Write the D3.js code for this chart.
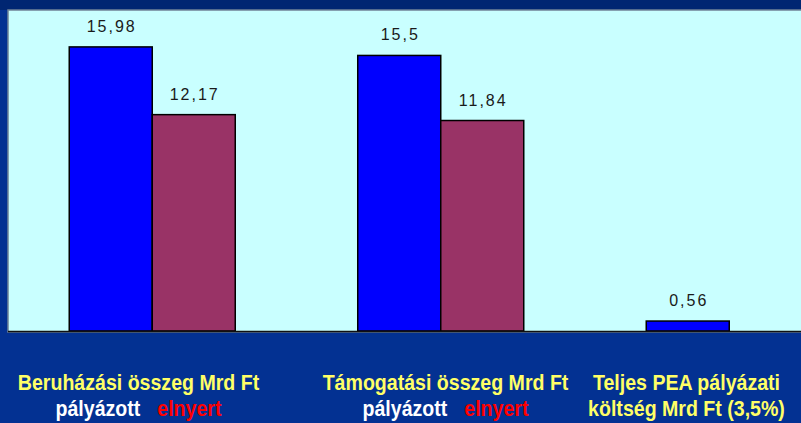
<!DOCTYPE html>
<html>
<head>
<meta charset="utf-8">
<script src="https://cdn.jsdelivr.net/npm/d3@7"></script>
<style>
  html, body { margin: 0; padding: 0; background: #033192; overflow: hidden; }
</style>
</head>
<body>
<div id="chart"></div>
<script>
const categories = ['Beruházási', 'Támogatási', 'PEA'];
const seriesNames = ['pályázott', 'elnyert'];
const palyazott = [15.98, 15.5, 0.56];
const elnyert = [12.17, 11.84, null];
const valueLabels = [['15,98', '12,17'], ['15,5', '11,84'], ['0,56', '']];
const axisLines = [
    [['Beruházási összeg Mrd Ft', '#ffff66']],
    [['Támogatási összeg Mrd Ft', '#ffff66']],
    [['Teljes PEA pályázati', '#ffff66']]
];
const secondLines = [
    [['pályázott', '#ffffff'], ['elnyert', '#ff0000']],
    [['pályázott', '#ffffff'], ['elnyert', '#ff0000']],
    [['költség Mrd Ft (3,5%)', '#ffff66']]
];

const width = 801;
const height = 423;
const plot = { left: 8, top: 10, bottom: 332 };

const svg = d3.select('#chart')
    .append('svg')
    .attr('width', width)
    .attr('height', height);

svg.append('rect')
    .attr('width', width)
    .attr('height', height)
    .attr('fill', '#033192');

svg.append('rect')
    .attr('width', width)
    .attr('height', plot.top)
    .attr('fill', '#002672');

// plot area
svg.append('rect')
    .attr('x', plot.left)
    .attr('y', plot.top)
    .attr('width', width - plot.left + 10)
    .attr('height', plot.bottom - plot.top)
    .attr('fill', '#c9ffff')
    .attr('stroke', '#6f8398')
    .attr('stroke-width', 1.5);

const x0 = d3.scaleBand()
    .domain(categories)
    .range([plot.left, plot.left + 288.5 * 3])
    .paddingInner(0.4246)
    .paddingOuter(0.2123);

const x1 = d3.scaleBand()
    .domain(seriesNames)
    .range([0, x0.bandwidth()]);

const y = d3.scaleLinear()
    .domain([0, 18])
    .range([plot.bottom - 1, plot.top + 1]);

const colors = { 'pályázott': '#0000ff', 'elnyert': '#993366' };

const rows = categories.map((c, i) => ({
    cat: c,
    vals: [
        { key: 'pályázott', v: palyazott[i], label: valueLabels[i][0] },
        { key: 'elnyert', v: elnyert[i], label: valueLabels[i][1] }
    ].filter(d => d.v != null)
}));

const groups = svg.selectAll('.group')
    .data(rows)
    .enter()
    .append('g')
    .attr('class', 'group')
    .attr('transform', d => `translate(${x0(d.cat)},0)`);

groups.selectAll('rect')
    .data(d => d.vals)
    .enter()
    .append('rect')
    .attr('x', d => x1(d.key))
    .attr('y', d => y(d.v))
    .attr('width', x1.bandwidth())
    .attr('height', d => y(0) - y(d.v))
    .attr('fill', d => colors[d.key])
    .attr('stroke', '#000')
    .attr('stroke-width', 1.5);

groups.selectAll('.vlabel')
    .data(d => d.vals)
    .enter()
    .append('text')
    .attr('class', 'vlabel')
    .attr('x', d => x1(d.key) + x1.bandwidth() / 2 + 1)
    .attr('y', d => y(d.v) - 15)
    .attr('text-anchor', 'middle')
    .style('font-family', '"Liberation Sans", Arial, sans-serif')
    .style('font-size', '16px')
    .style('letter-spacing', '2px')
    .style('fill', '#1a1a1a')
    .text(d => d.label);

// baseline
svg.append('line')
    .attr('x1', plot.left)
    .attr('x2', width)
    .attr('y1', y(0) + 0.5)
    .attr('y2', y(0) + 0.5)
    .attr('stroke', '#111')
    .attr('stroke-width', 1.5);

// category labels (Arial Narrow look: bold Liberation Sans squeezed)
const labelFont = '"Liberation Sans", Arial, sans-serif';
const labelCenters = [138.5, 445.5, 686.5];
const squeeze = 0.89;

function addLine(parts, cx, yPos, gap) {
    const g = svg.append('g')
        .attr('transform', `translate(${cx},${yPos}) scale(${squeeze},1)`);
    const t = g.append('text')
        .attr('x', 0)
        .attr('y', 0)
        .attr('text-anchor', 'middle')
        .style('font-family', labelFont)
        .style('font-weight', 'bold')
        .style('font-size', '22px');
    parts.forEach((p, i) => {
        t.append('tspan')
            .attr('dx', i > 0 ? gap / squeeze : 0)
            .style('fill', p[1])
            .text(p[0]);
    });
}

categories.forEach((c, i) => {
    addLine(axisLines[i], labelCenters[i], 390, 0);
    addLine(secondLines[i], labelCenters[i], 416, 17);
});
</script>
</body>
</html>
